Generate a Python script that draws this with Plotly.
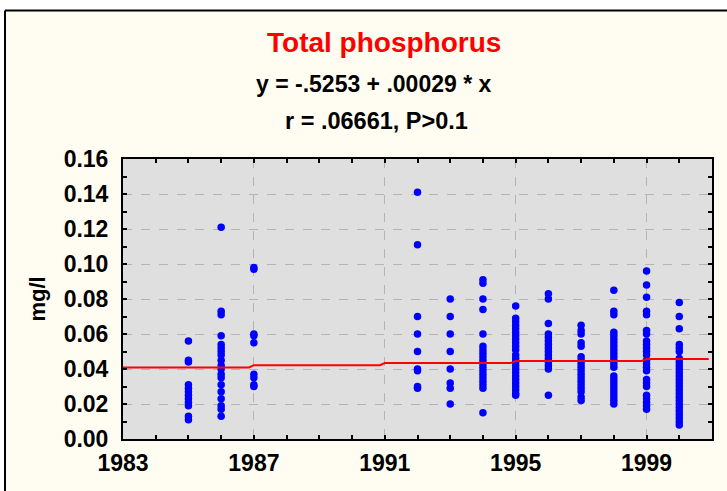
import plotly.graph_objects as go

# Total phosphorus (mg/l) samples grouped by sampling year
years = [1985, 1986, 1987, 1992, 1993, 1994, 1995, 1996, 1997, 1998, 1999, 2000]
tp_1985 = [0.056, 0.045, 0.044, 0.031, 0.029, 0.027, 0.025, 0.023, 0.021, 0.019, 0.013, 0.011]
tp_1986 = [0.121, 0.073, 0.071, 0.059, 0.054, 0.052, 0.050, 0.048, 0.045, 0.042, 0.040,
           0.037, 0.035, 0.031, 0.027, 0.023, 0.019, 0.017, 0.013]
tp_1987 = [0.098, 0.097, 0.060, 0.059, 0.055, 0.037, 0.035, 0.031, 0.030]
tp_1992 = [0.141, 0.111, 0.070, 0.060, 0.050, 0.040, 0.039, 0.030, 0.029]
tp_1993 = [0.080, 0.070, 0.060, 0.050, 0.040, 0.032, 0.029, 0.020]
tp_1994 = [0.091, 0.089, 0.080, 0.074, 0.060, 0.053, 0.051, 0.049, 0.047, 0.045, 0.043,
           0.041, 0.039, 0.037, 0.035, 0.033, 0.031, 0.029, 0.015]
tp_1995 = [0.076, 0.069, 0.067, 0.065, 0.063, 0.061, 0.059, 0.057, 0.055, 0.053, 0.051,
           0.048, 0.046, 0.044, 0.042, 0.040, 0.038, 0.036, 0.034, 0.032, 0.030, 0.028,
           0.026, 0.025]
tp_1996 = [0.083, 0.080, 0.066, 0.060, 0.058, 0.056, 0.054, 0.052, 0.050, 0.048, 0.046,
           0.044, 0.042, 0.040, 0.025]
tp_1997 = [0.065, 0.062, 0.060, 0.055, 0.053, 0.047, 0.045, 0.043, 0.041, 0.039, 0.037,
           0.035, 0.033, 0.031, 0.029, 0.027, 0.024, 0.022]
tp_1998 = [0.085, 0.073, 0.071, 0.061, 0.059, 0.057, 0.055, 0.053, 0.051, 0.049, 0.047,
           0.045, 0.043, 0.041, 0.036, 0.034, 0.032, 0.030, 0.028, 0.026, 0.024, 0.022,
           0.020]
tp_1999 = [0.096, 0.088, 0.081, 0.073, 0.071, 0.062, 0.060, 0.056, 0.054, 0.052, 0.050,
           0.048, 0.045, 0.043, 0.041, 0.039, 0.034, 0.032, 0.030, 0.025, 0.023, 0.021,
           0.019, 0.017]
tp_2000 = [0.078, 0.070, 0.063, 0.054, 0.052, 0.050, 0.046, 0.044, 0.042, 0.040, 0.038,
           0.036, 0.034, 0.032, 0.030, 0.028, 0.026, 0.024, 0.022, 0.020, 0.018, 0.016,
           0.014, 0.012, 0.010, 0.008]
samples = [tp_1985, tp_1986, tp_1987, tp_1992, tp_1993, tp_1994, tp_1995, tp_1996,
           tp_1997, tp_1998, tp_1999, tp_2000]

# Fitted regression line as plotted (values evaluated along the time axis)
fit_years = [1983.0, 1986.85, 1987.0, 1990.85, 1991.0, 1994.85, 1995.0, 1998.85, 1999.0, 2000.9]
fit_mgl = [0.0409, 0.0409, 0.0422, 0.0422, 0.0434, 0.0434, 0.0446, 0.0446, 0.0457, 0.0457]

x_ticks = [1983, 1987, 1991, 1995, 1999]
y_ticks = [0.00, 0.02, 0.04, 0.06, 0.08, 0.10, 0.12, 0.14, 0.16]

title_text = "Total phosphorus"
equation_text = "y = -.5253 + .00029 * x"
stats_text = "r = .06661, P>0.1"
y_title = "mg/l"

xs, ys = [], []
for yr, vals in zip(years, samples):
    xs.extend([yr] * len(vals))
    ys.extend(vals)

W, H = 727, 491
L, R, T, B = 123, 15, 159, 52
PW, PH = W - L - R, H - T - B


def px(X):
    return (X - L) / PW


def py(Y):
    return (H - B - Y) / PH


FONT = "Liberation Sans, Arial, sans-serif"
CREAM = "#FFFDF1"

fig = go.Figure()
fig.add_trace(go.Scatter(
    x=xs, y=ys, mode="markers",
    marker=dict(color="#0000FF", size=7.5, line=dict(width=0)),
    showlegend=False, cliponaxis=False,
))
fig.add_trace(go.Scatter(
    x=fit_years, y=fit_mgl, mode="lines",
    line=dict(color="#FF0000", width=2),
    showlegend=False,
))

axis_common = dict(
    showline=True, linecolor="black", linewidth=2, mirror="allticks",
    ticks="inside", ticklen=4, tickwidth=1.5, tickcolor="black",
    showgrid=True, gridcolor="#B4B4B4", griddash="dash", gridwidth=1,
    zeroline=False,
    tickfont=dict(family=FONT, size=23, color="black", weight="bold"),
)

fig.update_xaxes(
    range=[1983, 2001], tickmode="array", tickvals=x_ticks,
    ticktext=[str(v) for v in x_ticks],
    minor=dict(dtick=1, tick0=1983, ticks="inside", ticklen=4, tickcolor="black",
               showgrid=False),
    ticklabelstandoff=2,
    **axis_common,
)
fig.update_yaxes(
    range=[0, 0.16], tickmode="array", tickvals=y_ticks,
    ticktext=[f"{v:.2f}" for v in y_ticks],
    minor=dict(dtick=0.01, tick0=0, ticks="inside", ticklen=4, tickcolor="black",
               showgrid=False),
    ticklabelstandoff=8,
    title=dict(text=y_title, font=dict(family=FONT, size=22, color="black", weight="bold"),
               standoff=12),
    **axis_common,
)

annotations = [
    dict(text=title_text, x=px(384), y=py(43),
         font=dict(family=FONT, size=28, color="#FF0000", weight="bold")),
    dict(text=equation_text, x=px(374), y=py(84),
         font=dict(family=FONT, size=23, color="black", weight="bold")),
    dict(text=stats_text, x=px(376), y=py(121),
         font=dict(family=FONT, size=23.5, color="black", weight="bold")),
]
for a in annotations:
    a.update(xref="paper", yref="paper", xanchor="center", yanchor="middle", showarrow=False)

shapes = [
    # white surround outside the chart frame
    dict(type="rect", xref="paper", yref="paper", x0=px(-5), x1=px(W + 5),
         y0=py(10), y1=py(-5), fillcolor="white", line=dict(width=0), layer="below"),
    dict(type="rect", xref="paper", yref="paper", x0=px(-5), x1=px(4.5),
         y0=py(H + 5), y1=py(-5), fillcolor="white", line=dict(width=0), layer="below"),
    # frame border
    dict(type="line", xref="paper", yref="paper", x0=px(5), x1=px(W + 5),
         y0=py(10.5), y1=py(10.5), line=dict(color="black", width=2)),
    dict(type="line", xref="paper", yref="paper", x0=px(5), x1=px(5),
         y0=py(10.5), y1=py(H + 5), line=dict(color="black", width=2)),
]

fig.update_layout(
    width=W, height=H,
    margin=dict(l=L, r=R, t=T, b=B, pad=0),
    paper_bgcolor=CREAM, plot_bgcolor="#DFDFDF",
    annotations=annotations, shapes=shapes,
    showlegend=False,
)

fig.write_html("out.html")
